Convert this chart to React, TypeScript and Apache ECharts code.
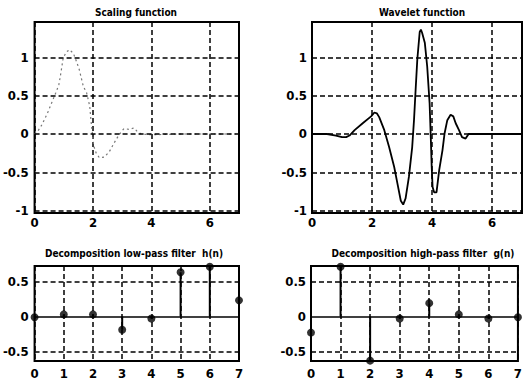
import React, { useEffect, useRef } from "react";
import * as echarts from "echarts";

// Scaling function
const scalingX = [0, 0.1, 0.25, 0.44, 0.6, 0.72, 0.83, 0.89, 0.98, 1.09, 1.2, 1.33, 1.44, 1.53, 1.67, 1.78, 1.89, 1.93, 1.98, 2.02, 2.11, 2.22, 2.39, 2.56, 2.72, 2.89, 3.06, 3.25, 3.4, 3.5, 3.65, 4.0, 5, 6, 7];
const scalingY = [0, 0.03, 0.12, 0.27, 0.42, 0.53, 0.64, 0.77, 0.99, 1.07, 1.1, 1.05, 0.94, 0.84, 0.62, 0.54, 0.36, 0.18, 0.01, -0.15, -0.25, -0.31, -0.3, -0.23, -0.12, -0.01, 0.07, 0.06, 0.08, 0.04, 0.0, -0.01, 0, 0, 0];

// Wavelet function
const waveletX = [0, 0.5, 0.8, 1.0, 1.14, 1.25, 1.42, 1.69, 1.97, 2.08, 2.16, 2.24, 2.41, 2.57, 2.74, 2.85, 2.96, 3.04, 3.12, 3.23, 3.34, 3.4, 3.46, 3.51, 3.59, 3.63, 3.67, 3.76, 3.84, 3.92, 3.96, 3.99, 4.02, 4.07, 4.15, 4.24, 4.35, 4.42, 4.51, 4.62, 4.71, 4.79, 4.9, 5.0, 5.12, 5.22, 6, 7];
const waveletY = [0, 0, -0.02, -0.04, -0.04, -0.02, 0.05, 0.14, 0.23, 0.28, 0.27, 0.22, 0.05, -0.17, -0.43, -0.65, -0.87, -0.92, -0.84, -0.56, -0.17, 0.18, 0.62, 0.97, 1.33, 1.36, 1.32, 1.19, 0.88, 0.4, -0.05, -0.43, -0.69, -0.76, -0.76, -0.47, -0.21, 0.01, 0.18, 0.25, 0.23, 0.14, 0.05, -0.04, -0.06, 0.0, 0, 0];

// Filters
const filterIdx = [0, 1, 2, 3, 4, 5, 6, 7];
const lowPass = [-0.01, 0.03, 0.03, -0.19, -0.03, 0.63, 0.71, 0.23];
const highPass = [-0.23, 0.71, -0.63, -0.03, 0.19, 0.03, -0.03, -0.01];

// Ticks
const topXInterval = 2;
const topYTicks = [-1, -0.5, 0, 0.5, 1];
const botYTicks = [-0.5, 0, 0.5];

const titles = [
  "Scaling function",
  "Wavelet function",
  "Decomposition low-pass filter  h(n)",
  "Decomposition high-pass filter  g(n)",
];

const FONT = "'Liberation Sans Narrow', 'DejaVu Sans Condensed', 'Liberation Sans', Arial, sans-serif";

export default function App() {
  const ref = useRef<HTMLDivElement>(null);
  useEffect(() => {
    if (!ref.current) return;
    const chart = echarts.init(ref.current, null, { renderer: "svg" });
    const grid = [
      { left: 30, top: 22, width: 209, height: 191 },
      { left: 312, top: 22, width: 210, height: 191 },
      { left: 30, top: 266, width: 209, height: 96 },
      { left: 311, top: 266, width: 211, height: 96 },
    ].map((g) => ({ ...g, show: true, borderColor: "#000", borderWidth: 2, backgroundColor: "transparent" }));

    const gridLine = { color: "#000", type: [5, 3] as any, width: 1.5 };
    const label = { color: "#000", fontSize: 13, fontWeight: "bold" as const, fontFamily: FONT };

    const xAxis = [0, 1, 2, 3].map((i) => ({
      type: "value" as const,
      gridIndex: i,
      min: 0,
      max: 7,
      interval: i < 2 ? topXInterval : 1,
      axisLine: { show: false },
      axisTick: { show: false },
      splitLine: { show: true, lineStyle: gridLine },
      axisLabel: { ...label, margin: i < 2 ? 3 : 6, showMaxLabel: i >= 2 },
    }));
    const yAxis = [0, 1, 2, 3].map((i) => ({
      type: "value" as const,
      gridIndex: i,
      min: i < 2 ? -1.03 : -0.635,
      max: i < 2 ? 1.46 : 0.72,
      axisLine: { show: false },
      axisTick: { show: false },
      splitLine: { show: false },
      axisLabel: { ...label, margin: i === 1 || i === 3 ? 5 : 6, customValues: i < 2 ? topYTicks : botYTicks },
    }));

    const hLines = (vals: number[], solidZero: boolean) => ({
      silent: true,
      symbol: ["none", "none"],
      label: { show: false },
      animation: false,
      data: vals.map((v) => ({
        yAxis: v,
        lineStyle: solidZero && v === 0 ? { color: "#000", type: "solid", width: 1.5 } : gridLine,
      })),
    });

    const stemSeries = (idx: number, vals: number[]) => [
      {
        type: "bar" as const,
        xAxisIndex: idx,
        yAxisIndex: idx,
        data: filterIdx.map((x, k) => [x, vals[k]]),
        barWidth: 2,
        itemStyle: { color: "#000" },
        markLine: hLines([-0.5, 0, 0.5], true),
      },
      {
        type: "scatter" as const,
        xAxisIndex: idx,
        yAxisIndex: idx,
        data: filterIdx.map((x, k) => [x, vals[k]]),
        symbol: "circle",
        symbolSize: 8,
        clip: false,
        itemStyle: { color: "#000" },
      },
    ];

    const titlePos = [
      [136, 12],
      [422, 12],
      [134, 253],
      [423, 253],
    ];

    chart.setOption({
      animation: false,
      grid,
      xAxis,
      yAxis,
      graphic: titles.map((t, i) => ({
        type: "text",
        x: titlePos[i][0],
        y: titlePos[i][1],
        style: {
          text: t,
          textAlign: "center",
          textVerticalAlign: "middle",
          fill: "#000",
          fontSize: 10,
          fontWeight: "bold",
          fontFamily: FONT,
        },
      })),
      series: [
        {
          type: "line",
          xAxisIndex: 0,
          yAxisIndex: 0,
          data: scalingX.map((x, k) => [x, scalingY[k]]),
          showSymbol: false,
          lineStyle: { color: "#777", width: 1.2, type: [2, 3] },
          markLine: hLines(topYTicks, false),
        },
        {
          type: "line",
          xAxisIndex: 1,
          yAxisIndex: 1,
          data: waveletX.map((x, k) => [x, waveletY[k]]),
          showSymbol: false,
          lineStyle: { color: "#000", width: 1.8 },
          markLine: hLines(topYTicks, false),
        },
        ...stemSeries(2, lowPass),
        ...stemSeries(3, highPass),
      ],
    });
    return () => chart.dispose();
  }, []);
  return <div ref={ref} style={{ position: "absolute", left: 0, top: 0, width: 525, height: 380 }} />;
}
